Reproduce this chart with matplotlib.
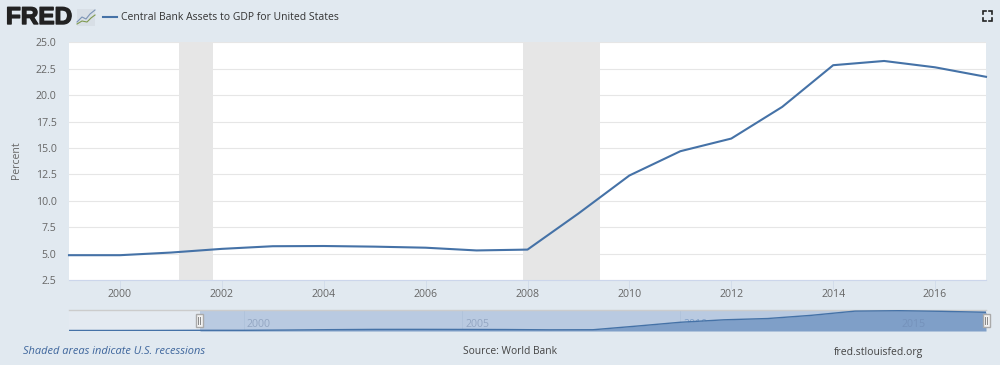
import matplotlib
matplotlib.use("Agg")
import matplotlib.pyplot as plt
import matplotlib.patheffects as pe
from matplotlib.patches import Rectangle

plt.rcParams['font.family'] = ['Open Sans', 'DejaVu Sans']

years = [1999, 2000, 2001, 2002, 2003, 2004, 2005, 2006, 2007, 2008, 2009, 2010, 2011, 2012, 2013, 2014, 2015, 2016, 2017]
values = [4.85, 4.85, 5.1, 5.45, 5.7, 5.72, 5.66, 5.56, 5.3, 5.38, 8.8, 12.4, 14.7, 15.9, 18.9, 22.85, 23.25, 22.65, 21.75]
early_years = [1996, 1997, 1998]
early_values = [4.7, 4.7, 4.75]
recessions = [(2001.16, 2001.83), (2007.92, 2009.42)]
y_ticks = [2.5, 5.0, 7.5, 10.0, 12.5, 15.0, 17.5, 20.0, 22.5, 25.0]
x_ticks = [2000, 2002, 2004, 2006, 2008, 2010, 2012, 2014, 2016]
nav_ticks = [2000, 2005, 2010, 2015]
nav_label_colors = ["#93a6c2", "#93a6c2", "#7f9fc8", "#7592bb"]
title = "Central Bank Assets to GDP for United States"

BG = "#e1e9f0"
LINE = "#4572a7"
TXT = "#666666"
W, H = 1000, 365

def px_axes(x0, y0, x1, y1, **kw):
    return fig.add_axes([x0 / W, 1 - y1 / H, (x1 - x0) / W, (y1 - y0) / H], **kw)

fig = plt.figure(figsize=(10, 3.65), dpi=100, facecolor=BG)

# main plot
ax = px_axes(69, 42.5, 986, 280)
ax.set_xlim(1999, 2017)
ax.set_ylim(2.5, 25)
ax.set_facecolor("white")
for a, b in recessions:
    ax.axvspan(a, b, color="#e6e6e6", lw=0, zorder=1)
ax.set_yticks(y_ticks)
ax.set_yticklabels([f"{v:.1f}" for v in y_ticks], fontsize=7.6, color=TXT)
ax.set_xticks(x_ticks)
ax.set_xticklabels([str(v) for v in x_ticks], fontsize=7.6, color=TXT)
ax.grid(axis="y", color="#e6e6e6", lw=0.8, zorder=0)
ax.plot(years, values, color=LINE, lw=1.5, zorder=3, solid_joinstyle="round", clip_on=False)
ax.tick_params(axis="y", length=0, pad=9)
ax.tick_params(axis="x", length=6.5, width=0.7, color="#d3ddea", pad=0)
for s in ["top", "left", "right"]:
    ax.spines[s].set_visible(False)
ax.spines["bottom"].set_color("#ccd6eb")
ax.set_ylabel("Percent", fontsize=7.6, color=TXT)
ax.yaxis.set_label_coords(-0.0515, 0.505)

# navigator
nav = px_axes(69, 310, 986, 331)
nav_x = early_years + years
nav_y = early_values + values
nav.set_xlim(1996, 2017)
nav.set_ylim(4.2, 23.9)
nav.set_facecolor("#e4eaf1")
nav.axvspan(1999, 2017, color="#b9cae1", lw=0, zorder=1)
nav.fill_between(nav_x, 4.2, nav_y, where=[x >= 1999 for x in nav_x], color="#7f9fc8", lw=0, zorder=3)
nav.plot(nav_x, nav_y, color=LINE, lw=1, zorder=4)
nav.set_xticks([])
nav.set_yticks([])
for t, c in zip(nav_ticks, nav_label_colors):
    nav.axvline(t, color="#adc0d9", lw=0.5, zorder=1.5)
    nav.text(t + 0.07, 5.0, str(t), fontsize=7.6, color=c, va="bottom", ha="left", zorder=3.5 if t == 2010 else 5)
for s in ["left", "right", "bottom"]:
    nav.spines[s].set_visible(False)
nav.spines["top"].set_color("#cccccc")
nav.spines["top"].set_linewidth(1)

# overlay in pixel coordinates: header, handles, footer
ov = fig.add_axes([0, 0, 1, 1], facecolor="none")
ov.set_xlim(0, W)
ov.set_ylim(H, 0)
ov.axis("off")

for hx in (199, 986):
    ov.add_patch(Rectangle((hx - 3.5, 314), 7, 13, fc="#f2f2f2", ec="#aaaaaa", lw=1, zorder=6))
    ov.plot([hx - 1, hx - 1], [317, 324], color="#888888", lw=0.7, zorder=7)
    ov.plot([hx + 1, hx + 1], [317, 324], color="#888888", lw=0.7, zorder=7)

ov.text(6, 17.5, "FRED", fontsize=17.5, fontweight="bold", color="#222222", family="Liberation Sans",
        va="center", ha="left", path_effects=[pe.withStroke(linewidth=1.0, foreground="#222222")])
ov.add_patch(Rectangle((77, 9), 18, 17, fc="#d8dfe6", ec="none"))
ov.plot([77, 82, 86, 90, 95], [22, 17, 19, 14, 10], color="#7b93b5", lw=0.8)
ov.plot([77, 82, 87, 91, 95], [24, 21, 22, 18, 15], color="#7f9a4e", lw=0.8)

ov.plot([103, 117], [16.5, 16.5], color=LINE, lw=1.5)
ov.text(121, 17.5, title, fontsize=7.5, color="#333333", va="center", ha="left")

for cx, cy, dx, dy in [(982.5, 11, 1, 1), (992, 11, -1, 1), (982.5, 20.5, 1, -1), (992, 20.5, -1, -1)]:
    ov.plot([cx + 3 * dx, cx, cx], [cy, cy, cy + 3 * dy], color="#222222", lw=1.2, solid_joinstyle="miter")

ov.text(23, 352, "Shaded areas indicate U.S. recessions", fontsize=7.95, style="italic", color="#3d659c",
        va="center", ha="left")
ov.text(510, 352, "Source: World Bank", fontsize=7.4, color="#444444", va="center", ha="center")
ov.text(878, 352, "fred.stlouisfed.org", fontsize=7.45, color="#444444", va="center", ha="center")

fig.savefig("out.png", dpi=100, facecolor=BG)
